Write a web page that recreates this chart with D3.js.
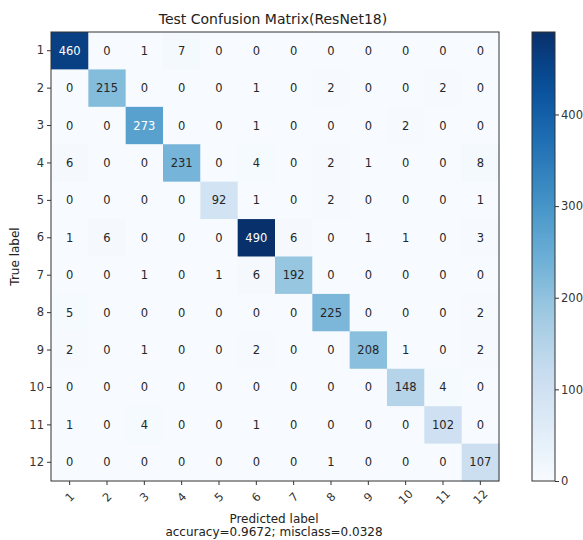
<!DOCTYPE html>
<html>
<head>
<meta charset="utf-8">
<script src="https://cdn.jsdelivr.net/npm/d3@7"></script>
<style>
  html, body { margin: 0; padding: 0; background: #fff; }
  svg { display: block; font-family: "DejaVu Sans", sans-serif; }
</style>
</head>
<body>
<svg id="chart" width="583" height="540"></svg>
<script>
const classes = ["1","2","3","4","5","6","7","8","9","10","11","12"];
const matrix = [
  [460,   0,   1,   7,   0,   0,   0,   0,   0,   0,   0,   0],
  [  0, 215,   0,   0,   0,   1,   0,   2,   0,   0,   2,   0],
  [  0,   0, 273,   0,   0,   1,   0,   0,   0,   2,   0,   0],
  [  6,   0,   0, 231,   0,   4,   0,   2,   1,   0,   0,   8],
  [  0,   0,   0,   0,  92,   1,   0,   2,   0,   0,   0,   1],
  [  1,   6,   0,   0,   0, 490,   6,   0,   1,   1,   0,   3],
  [  0,   0,   1,   0,   1,   6, 192,   0,   0,   0,   0,   0],
  [  5,   0,   0,   0,   0,   0,   0, 225,   0,   0,   0,   2],
  [  2,   0,   1,   0,   0,   2,   0,   0, 208,   1,   0,   2],
  [  0,   0,   0,   0,   0,   0,   0,   0,   0, 148,   4,   0],
  [  1,   0,   4,   0,   0,   1,   0,   0,   0,   0, 102,   0],
  [  0,   0,   0,   0,   0,   0,   0,   1,   0,   0,   0, 107]
];
const colorbarTicks = [0, 100, 200, 300, 400];
const titleText = "Test Confusion Matrix(ResNet18)";
const xLabel = "Predicted label";
const yLabel = "True label";
const footText = "accuracy=0.9672; misclass=0.0328";
const bluesStops = ["#f7fbff","#deebf7","#c6dbef","#9ecae1","#6baed6","#4292c6","#2171b5","#08519c","#08306b"];

const svg = d3.select("#chart");
const L = 51, T = 32, W = 448, H = 449;
const vmax = d3.max(matrix.flat());

const x = d3.scaleBand().domain(classes).range([L, L + W]);
const y = d3.scaleBand().domain(classes).range([T, T + H]);
const color = d3.scaleLinear()
  .domain(bluesStops.map((_, i) => i / (bluesStops.length - 1) * vmax))
  .range(bluesStops)
  .interpolate(d3.interpolateRgb)
  .clamp(true);

const cells = [];
matrix.forEach((row, i) => row.forEach((v, j) => cells.push({r: classes[i], c: classes[j], v})));

const g = svg.append("g");
g.selectAll("rect.cell").data(cells).join("rect")
  .attr("class", "cell")
  .attr("x", d => x(d.c))
  .attr("y", d => y(d.r))
  .attr("width", x.bandwidth() + 0.5)
  .attr("height", y.bandwidth() + 0.5)
  .attr("fill", d => color(d.v));

const thresh = vmax / 2;
g.selectAll("text.val").data(cells).join("text")
  .attr("class", "val")
  .attr("x", d => x(d.c) + x.bandwidth() / 2)
  .attr("y", d => y(d.r) + y.bandwidth() / 2)
  .attr("text-anchor", "middle")
  .attr("dominant-baseline", "central")
  .attr("font-size", 11.5)
  .attr("fill", d => d.v > thresh ? "#ffffff" : "#262626")
  .text(d => d.v);

// frame
svg.append("rect")
  .attr("x", L).attr("y", T).attr("width", W).attr("height", H)
  .attr("fill", "none").attr("stroke", "#333").attr("stroke-width", 1);

// axes
const xAxis = d3.axisBottom(x).tickSize(4).tickPadding(2);
const xg = svg.append("g").attr("transform", `translate(0,${T + H})`).call(xAxis);
xg.select(".domain").remove();
xg.selectAll(".tick line").attr("stroke", "#333");
xg.selectAll(".tick text")
  .attr("font-size", 11.5)
  .attr("fill", "#333")
  .attr("font-family", "DejaVu Sans, sans-serif")
  .attr("text-anchor", "middle")
  .attr("dy", null)
  .attr("y", null)
  .attr("dominant-baseline", "central")
  .attr("transform", "translate(0,16) rotate(-45)");

const yAxis = d3.axisLeft(y).tickSize(4).tickPadding(3);
const yg = svg.append("g").attr("transform", `translate(${L},0)`).call(yAxis);
yg.select(".domain").remove();
yg.selectAll(".tick line").attr("stroke", "#333");
yg.selectAll(".tick text").attr("font-size", 11.5).attr("fill", "#333")
  .attr("font-family", "DejaVu Sans, sans-serif");

// title and labels
svg.append("text").attr("x", L + W / 2 - 2).attr("y", 24)
  .attr("text-anchor", "middle").attr("font-size", 14).attr("fill", "#222")
  .text(titleText);
svg.append("text").attr("x", L + W / 2 - 1).attr("y", 523)
  .attr("text-anchor", "middle").attr("font-size", 12).attr("fill", "#222")
  .text(xLabel);
svg.append("text").attr("x", L + W / 2 - 1).attr("y", 536)
  .attr("text-anchor", "middle").attr("font-size", 12).attr("fill", "#222")
  .text(footText);
svg.append("text")
  .attr("transform", `translate(19,${T + H / 2}) rotate(-90)`)
  .attr("text-anchor", "middle").attr("font-size", 12).attr("fill", "#222")
  .text(yLabel);

// colorbar
const cbX = 532, cbW = 23;
const cbScale = d3.scaleLinear().domain([0, vmax]).range([T + H, T]);
const defs = svg.append("defs");
const grad = defs.append("linearGradient").attr("id", "cbgrad")
  .attr("x1", 0).attr("y1", 1).attr("x2", 0).attr("y2", 0);
d3.range(0, 1.0001, 0.05).forEach(t => {
  grad.append("stop").attr("offset", t).attr("stop-color", color(t * vmax));
});
svg.append("rect").attr("x", cbX).attr("y", T).attr("width", cbW).attr("height", H)
  .attr("fill", "url(#cbgrad)").attr("stroke", "#333").attr("stroke-width", 1);
const cbAxis = d3.axisRight(cbScale).tickValues(colorbarTicks).tickSize(4).tickPadding(2);
const cg = svg.append("g").attr("transform", `translate(${cbX + cbW},0)`).call(cbAxis);
cg.select(".domain").remove();
cg.selectAll(".tick line").attr("stroke", "#333");
cg.selectAll(".tick text").attr("font-size", 11.5).attr("fill", "#333")
  .attr("font-family", "DejaVu Sans, sans-serif");
</script>
</body>
</html>
